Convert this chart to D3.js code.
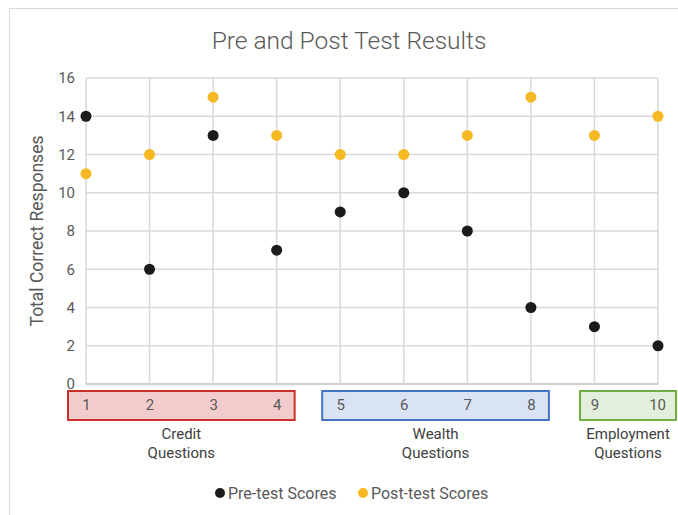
<!DOCTYPE html>
<html>
<head>
<meta charset="utf-8">
<script src="https://cdn.jsdelivr.net/npm/d3@7"></script>
<style>
  body { margin: 0; background: #fff; }
  text { font-family: "Roboto", "Liberation Sans", sans-serif; }
</style>
</head>
<body>
<svg id="chart"></svg>
<script>
const width = 678, height = 515

// data
const questions = [1, 2, 3, 4, 5, 6, 7, 8, 9, 10]
const preScores = [14, 6, 13, 7, 9, 10, 8, 4, 3, 2]
const postScores = [11, 12, 15, 13, 12, 12, 13, 15, 13, 14]
const yTicks = [0, 2, 4, 6, 8, 10, 12, 14, 16]
const groups = [
  { name: ["Credit", "Questions"], from: 1, to: 4, fill: "#f2cccc", stroke: "#c9302c" },
  { name: ["Wealth", "Questions"], from: 5, to: 8, fill: "#dae3f3", stroke: "#4472c4" },
  { name: ["Employment", "Questions"], from: 9, to: 10, fill: "#e2efda", stroke: "#70ad47" }
]
const series = [
  { name: "Pre-test Scores", values: preScores, color: "#1b1b1b" },
  { name: "Post-test Scores", values: postScores, color: "#f5b923" }
]

const svg = d3.select("#chart").attr("width", width).attr("height", height)
const textColor = "#595959"

// outer frame
svg.append("rect")
  .attr("x", 9.5).attr("y", 8.5)
  .attr("width", width).attr("height", height)
  .attr("fill", "none").attr("stroke", "#d9d9d9")

const x = d3.scaleLinear().domain([1, 10]).range([86, 658])
const y = d3.scaleLinear().domain([0, 16]).range([384, 78])

svg.append("text")
  .attr("x", 349).attr("y", 49)
  .attr("text-anchor", "middle")
  .attr("font-size", 24.5)
  .attr("font-weight", 300)
  .attr("fill", textColor)
  .text("Pre and Post Test Results")

// grid
const grid = svg.append("g")
grid.selectAll(".hgrid").data(yTicks).enter().append("line")
  .attr("x1", x(1)).attr("x2", x(10))
  .attr("y1", d => y(d)).attr("y2", d => y(d))
  .attr("stroke", d => d === 0 ? "#bfbfbf" : "#d9d9d9")
  .attr("stroke-width", 1.5)
grid.selectAll(".vgrid").data(questions).enter().append("line")
  .attr("x1", d => x(d)).attr("x2", d => x(d))
  .attr("y1", y(16)).attr("y2", y(0))
  .attr("stroke", "#d9d9d9")
  .attr("stroke-width", 1.5)

// y axis labels
const yAxis = d3.axisLeft(y).tickValues(yTicks).tickSize(0).tickPadding(0)
svg.append("g")
  .attr("transform", `translate(${x(1) - 11},0)`)
  .call(yAxis)
  .call(g => g.select(".domain").remove())
  .call(g => g.selectAll("text").attr("font-size", 15).attr("fill", textColor)
    .attr("font-family", "Roboto, sans-serif"))

svg.append("text")
  .attr("transform", `translate(43,${(y(0) + y(16)) / 2}) rotate(-90)`)
  .attr("text-anchor", "middle")
  .attr("font-size", 17.5)
  .attr("fill", textColor)
  .text("Total Correct Responses")

// category boxes
const boxes = svg.append("g")
groups.forEach(gr => {
  const left = gr.from === 9 ? 580 : x(gr.from) - 18
  const right = gr.to === 10 ? 676 : x(gr.to) + 18
  boxes.append("rect")
    .attr("x", left).attr("y", 391)
    .attr("width", right - left).attr("height", 29)
    .attr("fill", gr.fill)
    .attr("stroke", gr.stroke)
    .attr("stroke-width", 2)
  const cx = (left + right) / 2
  gr.name.forEach((line, i) => {
    boxes.append("text")
      .attr("x", cx).attr("y", 439 + i * 19)
      .attr("text-anchor", "middle")
      .attr("font-size", 15)
      .attr("fill", "#404040")
      .text(line)
  })
})

// x axis labels inside boxes
const xAxis = d3.axisBottom(x).tickValues(questions).tickSize(0).tickPadding(0)
svg.append("g")
  .attr("transform", "translate(0,399)")
  .call(xAxis)
  .call(g => g.select(".domain").remove())
  .call(g => g.selectAll("text").attr("font-size", 15).attr("fill", textColor)
    .attr("font-family", "Roboto, sans-serif")
    .attr("text-anchor", d => d === 10 ? "end" : "middle")
    .attr("dx", d => d === 10 ? "0.5em" : 0))

// points
series.forEach(s => {
  svg.append("g").selectAll("circle")
    .data(s.values)
    .enter().append("circle")
    .attr("cx", (d, i) => x(questions[i]))
    .attr("cy", d => y(d))
    .attr("r", 5.5)
    .attr("fill", s.color)
})

// legend
const legend = svg.append("g").attr("transform", "translate(220,493)")
series.forEach((s, i) => {
  const item = legend.append("g").attr("transform", `translate(${i * 143},0)`)
  item.append("circle").attr("r", 5).attr("fill", s.color)
  item.append("text")
    .attr("x", 8).attr("y", 5.5)
    .attr("font-size", 16)
    .attr("fill", textColor)
    .text(s.name)
})
</script>
</body>
</html>
